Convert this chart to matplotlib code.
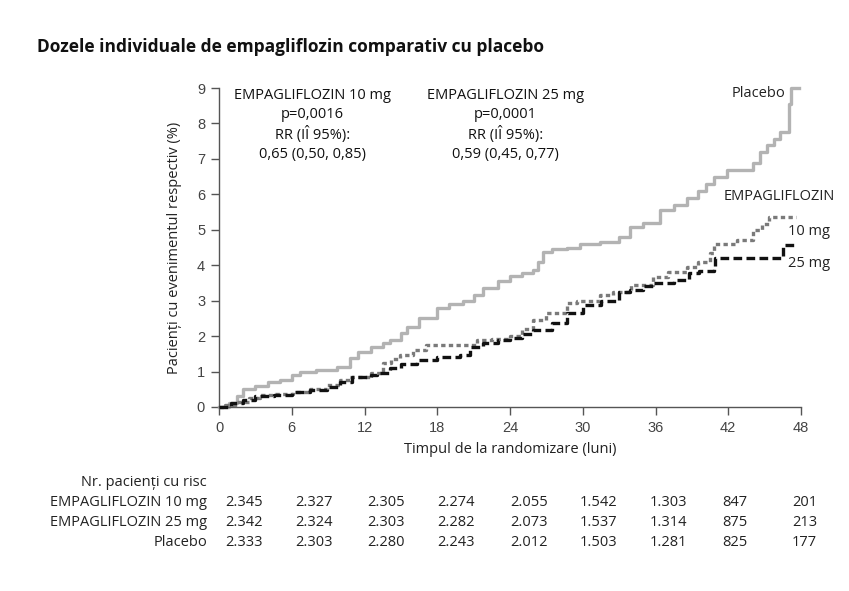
import matplotlib
matplotlib.use("Agg")
import matplotlib.pyplot as plt

# ---- data ----
placebo_m = [0, 0.8, 1.5, 2, 3, 4, 5, 6, 6.7, 8, 9.7, 10.8, 11.5, 12.5, 13.5, 14.1, 15, 15.5, 16.5, 18, 19,
             20.1, 21, 21.8, 23, 24, 25, 25.9, 26.3, 26.7, 27.5, 28.7, 29.8, 31.4, 33, 33.9, 35, 36.4, 37.5,
             38.6, 39.5, 40.2, 40.8, 41.9, 44, 44.6, 45.2, 45.8, 46.3, 47.0, 47.2, 47.8]
placebo_v = [0, 0.1, 0.3, 0.5, 0.6, 0.7, 0.75, 0.9, 1.0, 1.05, 1.13, 1.38, 1.55, 1.7, 1.8, 1.9, 2.1, 2.25, 2.5,
             2.8, 2.9, 3.0, 3.15, 3.35, 3.55, 3.7, 3.78, 3.86, 4.1, 4.37, 4.45, 4.5, 4.6, 4.65, 4.8, 5.07, 5.2,
             5.55, 5.7, 5.9, 6.1, 6.3, 6.5, 6.7, 6.87, 7.2, 7.4, 7.55, 7.75, 8.56, 9.0, 9.0]

emp10_m = [0, 0.5, 1.5, 2.5, 3.4, 4.5, 6.1, 7.5, 8.9, 10, 10.8, 12.5, 13.5, 14.2, 14.9, 16, 17.1, 20.4, 21.3,
           22.5, 24, 25, 25.9, 27, 28.7, 29.5, 31.4, 32.5, 34, 35.8, 37, 38.6, 39.5, 40.5, 40.8, 42.7, 44,
           44.8, 45.4, 47.6]
emp10_v = [0, 0.05, 0.15, 0.25, 0.34, 0.38, 0.42, 0.52, 0.62, 0.75, 0.85, 0.95, 1.23, 1.35, 1.46, 1.6, 1.75,
           1.75, 1.88, 1.93, 2.0, 2.2, 2.45, 2.65, 2.93, 3.0, 3.15, 3.25, 3.45, 3.66, 3.8, 3.95, 4.1, 4.34,
           4.6, 4.7, 4.98, 5.15, 5.35, 5.35]

emp25_m = [0, 1, 2, 3, 4.5, 6, 7.5, 8.9, 10, 11, 12.5, 13, 14.1, 15, 16.3, 18, 19.9, 20.7, 21.8, 23, 24, 25,
           25.9, 27.5, 28.7, 30, 31.5, 33, 33.9, 35, 35.8, 37.5, 38.8, 39.6, 40.8, 40.9, 46.4, 46.5, 47.6]
emp25_v = [0, 0.1, 0.2, 0.3, 0.35, 0.42, 0.48, 0.56, 0.7, 0.85, 0.9, 0.95, 1.1, 1.2, 1.32, 1.41, 1.46, 1.69,
           1.8, 1.88, 1.94, 2.05, 2.17, 2.37, 2.65, 2.87, 3.0, 3.24, 3.3, 3.4, 3.49, 3.58, 3.77, 3.85, 3.9,
           4.2, 4.2, 4.56, 4.56]

x_ticks = [0, 6, 12, 18, 24, 30, 36, 42, 48]
y_ticks = list(range(10))

risk_labels = ["EMPAGLIFLOZIN 10 mg", "EMPAGLIFLOZIN 25 mg", "Placebo"]
risk_values = [
    ["2.345", "2.327", "2.305", "2.274", "2.055", "1.542", "1.303", "847", "201"],
    ["2.342", "2.324", "2.303", "2.282", "2.073", "1.537", "1.314", "875", "213"],
    ["2.333", "2.303", "2.280", "2.243", "2.012", "1.503", "1.281", "825", "177"],
]

title = "Dozele individuale de empagliflozin comparativ cu placebo"
ann10 = "EMPAGLIFLOZIN 10 mg\np=0,0016\nRR (IÎ 95%):\n0,65 (0,50, 0,85)"
ann25 = "EMPAGLIFLOZIN 25 mg\np=0,0001\nRR (IÎ 95%):\n0,59 (0,45, 0,77)"

TXT = ["Open Sans", "DejaVu Sans"]
TICK = ["Liberation Sans", "DejaVu Sans"]
FS = 10.5

W, H = 849, 591
fig = plt.figure(figsize=(W / 100, H / 100), dpi=100)
ax = fig.add_axes([219 / W, 1 - 407 / H, (801 - 219) / W, (407 - 88) / H])

ax.step(placebo_m, placebo_v, where="post", color="#b3b3b3", lw=2.4, clip_on=False, zorder=2)
ax.step(emp10_m, emp10_v, where="post", color="#7a7a7a", lw=2.4, dashes=(1.3, 1.0), clip_on=False, zorder=3)
ax.step(emp25_m, emp25_v, where="post", color="#111111", lw=2.4, dashes=(2.6, 1.3), clip_on=False, zorder=4)

ax.set_xlim(0, 48)
ax.set_ylim(0, 9)
ax.set_xticks(x_ticks)
ax.set_yticks(y_ticks)
for s in ["top", "right"]:
    ax.spines[s].set_visible(False)
for s in ["left", "bottom"]:
    ax.spines[s].set_color("#555555")
    ax.spines[s].set_linewidth(1.0)
ax.tick_params(direction="out", length=6, width=1.0, color="#555555", labelcolor="#444444",
               labelsize=10.5, pad=4)
for lab in ax.get_xticklabels() + ax.get_yticklabels():
    lab.set_family(TICK)

ax.set_xlabel("Timpul de la randomizare (luni)", family=TXT, fontsize=FS, color="#222222", labelpad=5)
ax.set_ylabel("Pacienți cu evenimentul respectiv (%)", family=TXT, fontsize=FS, color="#222222", labelpad=11)

ax.text(7.7, 9.0, ann10, ha="center", va="top", family=TXT, fontsize=FS, linespacing=1.35, color="#111111")
ax.text(23.6, 9.0, ann25, ha="center", va="top", family=TXT, fontsize=FS, linespacing=1.35, color="#111111")
ax.text(46.7, 8.85, "Placebo", ha="right", va="center", family=TXT, fontsize=FS, color="#222222")
ax.text(41.6, 5.95, "EMPAGLIFLOZIN", ha="left", va="center", family=TXT, fontsize=FS, color="#222222")
ax.text(46.9, 4.95, "10 mg", ha="left", va="center", family=TXT, fontsize=FS, color="#222222")
ax.text(46.9, 4.05, "25 mg", ha="left", va="center", family=TXT, fontsize=FS, color="#222222")

fig.text(37 / W, 1 - 47 / H, title, ha="left", va="center", family=TXT, fontsize=12.5,
         fontweight="bold", color="#111111")

# risk table
fig.text(207 / W, 1 - 482 / H, "Nr. pacienți cu risc", ha="right", va="center", family=TXT,
         fontsize=FS, color="#222222")
row_y = [502, 522, 542]
col_x = [225, 295, 367, 437, 510, 580, 650, 722, 792]
for lab, vals, yy in zip(risk_labels, risk_values, row_y):
    fig.text(207 / W, 1 - yy / H, lab, ha="right", va="center", family=TXT, fontsize=FS, color="#222222")
    for v, xx in zip(vals, col_x):
        fig.text(xx / W, 1 - yy / H, v, ha="left", va="center", family=TXT, fontsize=FS, color="#222222")

fig.savefig("out.png", dpi=100, facecolor="white")
